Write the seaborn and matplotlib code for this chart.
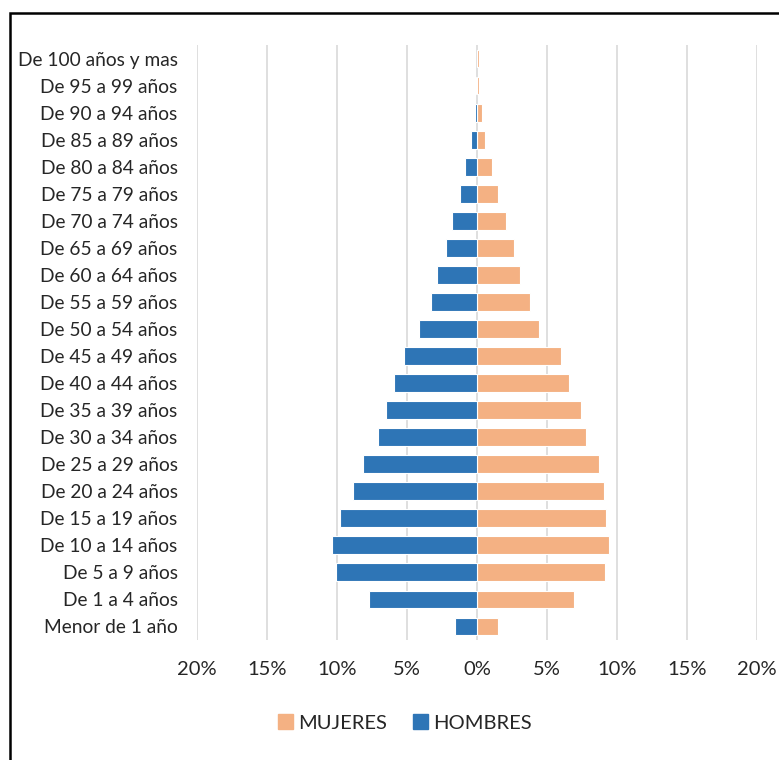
import numpy as np
import pandas as pd
import matplotlib.pyplot as plt
import seaborn as sns
from matplotlib.patches import Rectangle, Patch
from matplotlib.ticker import FuncFormatter, MultipleLocator

# grupos de edad (de arriba hacia abajo)
grupos = ["De 100 años y mas", "De 95 a 99 años", "De 90 a 94 años", "De 85 a 89 años",
          "De 80 a 84 años", "De 75 a 79 años", "De 70 a 74 años", "De 65 a 69 años",
          "De 60 a 64 años", "De 55 a 59 años", "De 50 a 54 años", "De 45 a 49 años",
          "De 40 a 44 años", "De 35 a 39 años", "De 30 a 34 años", "De 25 a 29 años",
          "De 20 a 24 años", "De 15 a 19 años", "De 10 a 14 años", "De 5 a 9 años",
          "De 1 a 4 años", "Menor de 1 año"]

# porcentajes
hombres = [0.02, 0.04, 0.14, 0.43, 0.88, 1.24, 1.79, 2.24, 2.88, 3.31, 4.12, 5.19,
           5.95, 6.48, 7.05, 8.12, 8.88, 9.79, 10.33, 10.05, 7.69, 1.55]
mujeres = [0.14, 0.14, 0.33, 0.60, 1.07, 1.50, 2.07, 2.62, 3.07, 3.81, 4.46, 6.02,
           6.60, 7.40, 7.79, 8.69, 9.05, 9.24, 9.43, 9.14, 6.95, 1.48]

AZUL = "#2E75B6"
NARANJA = "#F4B183"

df = pd.DataFrame({
    "grupo": grupos * 2,
    "valor": [-v for v in hombres] + mujeres,
    "sexo": ["HOMBRES"] * len(grupos) + ["MUJERES"] * len(grupos),
})

sns.set_style("white")
plt.rcParams["font.family"] = ["Lato", "DejaVu Sans"]

fig = plt.figure(figsize=(7.79, 7.60), dpi=100)
ax = fig.add_axes([197 / 779, 120 / 760, 560 / 779, 595 / 760])

sns.barplot(data=df, y="grupo", x="valor", hue="sexo", order=grupos,
            hue_order=["MUJERES", "HOMBRES"], palette={"MUJERES": NARANJA, "HOMBRES": AZUL},
            dodge=False, width=0.66, orient="h", edgecolor="white", linewidth=0.8,
            saturation=1, ax=ax, legend=False)

ax.set_xlim(-20, 20)
ax.xaxis.set_major_locator(MultipleLocator(5))
ax.xaxis.set_major_formatter(FuncFormatter(lambda v, p: f"{abs(v):.0f}%"))
ax.grid(axis="x", color="#D9D9D9", linewidth=1.2)
ax.set_axisbelow(True)
for s in ax.spines.values():
    s.set_visible(False)
ax.set_xlabel("")
ax.set_ylabel("")
ax.tick_params(axis="y", length=0, pad=14, labelsize=13.8, labelcolor="#262626")
ax.tick_params(axis="x", length=0, pad=15, labelsize=14.5, labelcolor="#262626")

# leyenda
handles = [Patch(color=NARANJA, label="MUJERES"), Patch(color=AZUL, label="HOMBRES")]
fig.legend(handles=handles, loc="center", bbox_to_anchor=(405 / 779, 1 - 723 / 760),
           ncol=2, frameon=False, fontsize=14.5, handlelength=0.75, handleheight=0.75,
           handletextpad=0.25, columnspacing=1.3, labelcolor="#262626")

# borde del grafico
fig.patches.append(Rectangle((10 / 779, -0.05), 1.1, 1 - 13 / 760 + 0.05,
                             transform=fig.transFigure, fill=False,
                             edgecolor="black", linewidth=1.8, zorder=10))

fig.savefig("out.png", dpi=100)
